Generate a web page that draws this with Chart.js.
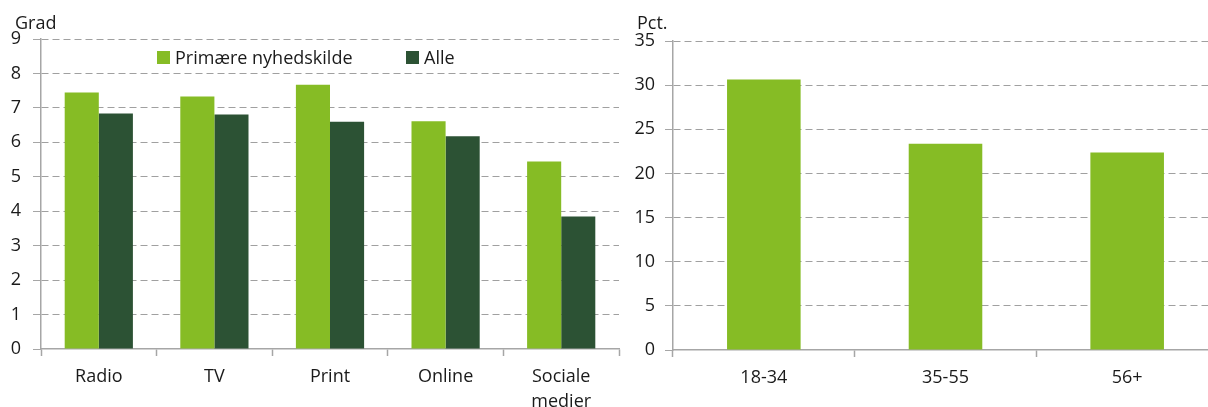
<!DOCTYPE html>
<html>
<head>
<meta charset="utf-8">
<script src="https://cdn.jsdelivr.net/npm/chart.js@4"></script>
<style>
  html, body { margin:0; padding:0; background:#fff; }
  body { width:1208px; height:407px; position:relative; overflow:hidden; font-family:"Open Sans", sans-serif; color:#1a1a1a; }
  .box { position:absolute; overflow:hidden; }
  .unit { position:absolute; font-size:18px; line-height:20px; color:#1a1a1a; }
  .leg { position:absolute; font-size:18px; line-height:20px; display:flex; align-items:center; color:#1a1a1a; }
  .sw { display:inline-block; width:13px; height:13px; margin-right:5px; }
</style>
</head>
<body>
<div class="box" style="left:0;top:0;width:625px;height:407px;"><canvas id="c1" width="625" height="407"></canvas></div>
<div class="box" style="left:620px;top:0;width:588px;height:407px;"><canvas id="c2" width="600" height="407"></canvas></div>
<div class="unit" style="left:15px;top:12px;">Grad</div>
<div class="unit" style="left:637px;top:12px;">Pct.</div>
<div class="leg" style="left:157px;top:47px;"><span class="sw" id="sw1"></span><span id="lt1"></span></div>
<div class="leg" style="left:406px;top:47px;"><span class="sw" id="sw2"></span><span id="lt2"></span></div>
<script>
// ---- data ----
const sourceCategories = ['Radio', 'TV', 'Print', 'Online', ['Sociale', 'medier']];
const seriesNames = ['Primære nyhedskilde', 'Alle'];
const primaryValues = [7.45, 7.33, 7.67, 6.61, 5.44];
const allValues = [6.84, 6.81, 6.60, 6.18, 3.85];
const leftTicks = [0, 1, 2, 3, 4, 5, 6, 7, 8, 9];

const ageCategories = ['18-34', '35-55', '56+'];
const ageValues = [30.65, 23.36, 22.37];
const rightTicks = [0, 5, 10, 15, 20, 25, 30, 35];

const LIGHT = '#86bc25';
const DARK = '#2c5234';
const GRID = '#a0a0a0';
const AXIS = '#a6a6a6';
const TEXT = '#1a1a1a';
const FONT = { family: '"Open Sans", sans-serif', size: 18, lineHeight: 1.4 };

document.getElementById('sw1').style.background = LIGHT;
document.getElementById('sw2').style.background = DARK;
document.getElementById('lt1').textContent = seriesNames[0];
document.getElementById('lt2').textContent = seriesNames[1];

function yScale(max, step, width, pad, tickVals) {
  return {
    min: 0, max: max,
    afterBuildTicks: s => { s.ticks = tickVals.map(v => ({ value: v })); },
    afterFit: s => { s.width = width; },
    ticks: { stepSize: step, color: TEXT, font: FONT, padding: pad },
    grid: {
      color: c => (c.tick && c.tick.value === 0) ? 'rgba(0,0,0,0)' : GRID,
      lineWidth: 1, tickLength: 8, tickColor: AXIS, drawTicks: true
    },
    border: { display: true, color: AXIS, width: 1.5, dash: [7, 4] }
  };
}
function xScale(height) {
  return {
    afterFit: s => { s.height = height; },
    ticks: { color: TEXT, font: FONT, padding: 8, maxRotation: 0, autoSkip: false },
    grid: { offset: true, drawOnChartArea: false, drawTicks: true, tickLength: 7, tickColor: AXIS, tickWidth: 1.5 },
    border: { display: true, color: AXIS, width: 1.5 }
  };
}

new Chart(document.getElementById('c1'), {
  type: 'bar',
  data: {
    labels: sourceCategories,
    datasets: [
      { label: seriesNames[0], data: primaryValues, backgroundColor: LIGHT },
      { label: seriesNames[1], data: allValues, backgroundColor: DARK }
    ]
  },
  options: {
    responsive: false, animation: false, devicePixelRatio: 1,
    layout: { padding: { left: 0, right: 6, top: 39, bottom: 0 } },
    datasets: { bar: { categoryPercentage: 0.59, barPercentage: 1.0 } },
    plugins: { legend: { display: false }, tooltip: { enabled: false } },
    scales: { x: xScale(58), y: yScale(9, 1, 41, 12, leftTicks) }
  }
});

new Chart(document.getElementById('c2'), {
  type: 'bar',
  data: {
    labels: ageCategories,
    datasets: [ { label: 'Pct.', data: ageValues, backgroundColor: LIGHT } ]
  },
  options: {
    responsive: false, animation: false, devicePixelRatio: 1,
    layout: { padding: { left: 0, right: 2, top: 41, bottom: 0 } },
    datasets: { bar: { categoryPercentage: 0.405, barPercentage: 1.0 } },
    plugins: { legend: { display: false }, tooltip: { enabled: false } },
    scales: { x: xScale(57), y: yScale(35, 5, 53, 10, rightTicks) }
  }
});
</script>
</body>
</html>
